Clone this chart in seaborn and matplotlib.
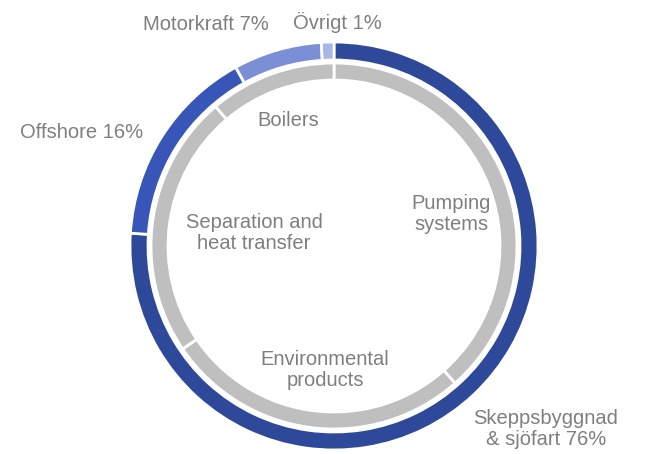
import matplotlib
matplotlib.use("Agg")
import matplotlib.pyplot as plt
import seaborn as sns

# outer ring - market segments (%)
segment_labels = ["Skeppsbyggnad\n& sjöfart 76%", "Offshore 16%", "Motorkraft 7%", "Övrigt 1%"]
segment_values = [76, 16, 7, 1]

# inner ring - product areas (share)
product_labels = ["Pumping\nsystems", "Environmental\nproducts", "Separation and\nheat transfer", "Boilers"]
product_values = [38.5, 27, 23.3, 11.2]

sns.set_style("white")
plt.rcParams['font.family'] = ['Liberation Sans', 'DejaVu Sans']

blues = ["#2E4999", "#3756B8", "#7B8FD6", "#A8B5E6"]
grey = "#BFBFBF"
txt = "#7F7F7F"

fig = plt.figure(figsize=(6.49, 4.54), dpi=100)
ax = fig.add_axes([0, 0, 1, 1])

cx, cy = 334, 454 - 246

ax.pie(segment_values, radius=204, center=(cx, cy), startangle=90, counterclock=False,
       colors=blues, wedgeprops=dict(width=18, edgecolor="white", linewidth=2))
ax.pie(product_values, radius=183, center=(cx, cy), startangle=90, counterclock=False,
       colors=[grey] * 4, wedgeprops=dict(width=17, edgecolor="white", linewidth=2))

ax.set_xlim(0, 649)
ax.set_ylim(0, 454)
ax.set_aspect("equal")
ax.axis("off")

fs = 14.5
# outer labels
outer_pos = [(546, 454 - 429), (82, 454 - 132), (206, 454 - 25), (337, 454 - 22)]
for lab, (x, y) in zip(segment_labels, outer_pos):
    ax.text(x, y, lab, ha="center", va="center", fontsize=fs, color=txt, linespacing=1.1)

# inner labels
inner_pos = [(451, 454 - 214), (325, 454 - 370), (254, 454 - 233), (288, 454 - 121)]
for lab, (x, y) in zip(product_labels, inner_pos):
    ax.text(x, y, lab, ha="center", va="center", fontsize=fs, color=txt, linespacing=1.1)

fig.savefig("out.png", dpi=100)
